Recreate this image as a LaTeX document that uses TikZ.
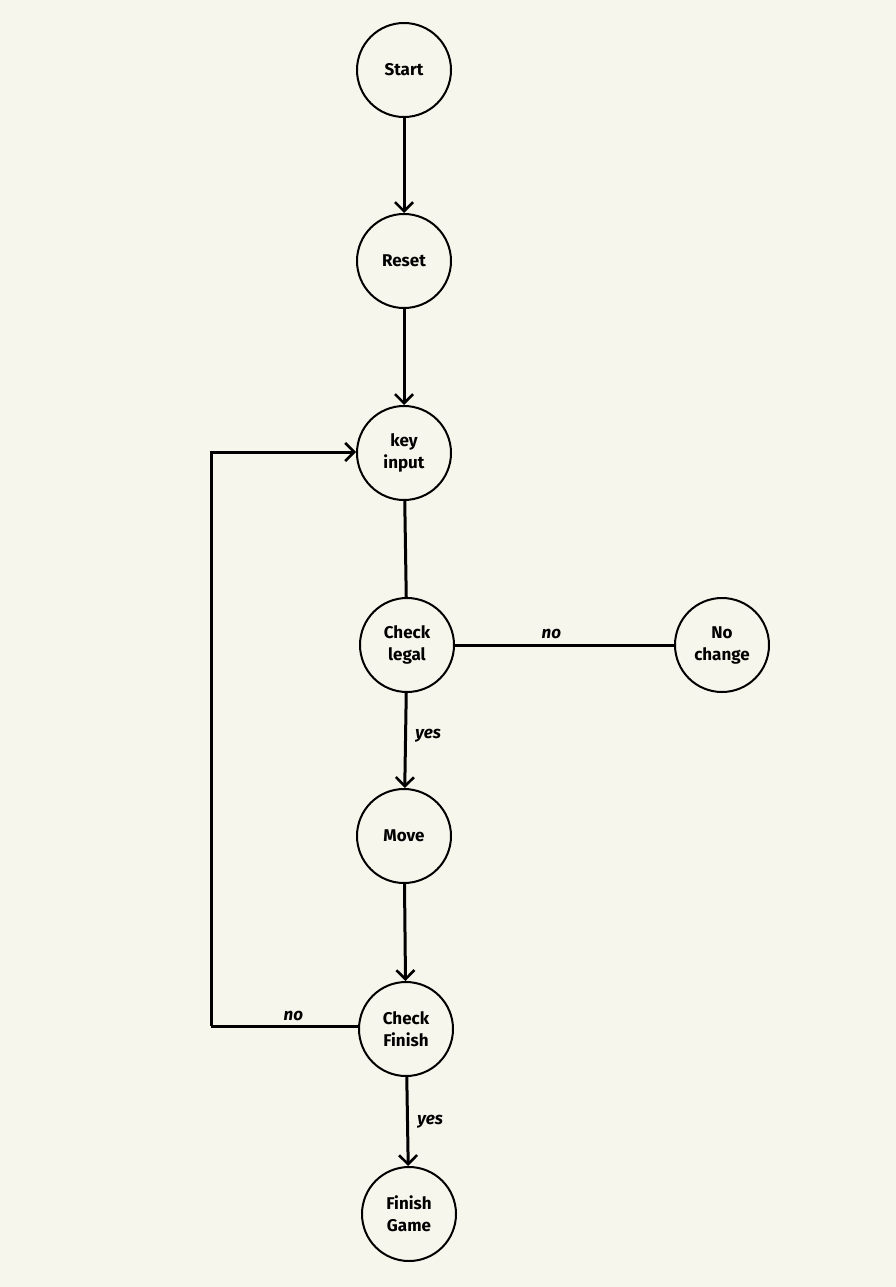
\documentclass[tikz,border=0pt]{standalone}
\usepackage{fontspec}
\setmainfont{Fira Sans}
\usetikzlibrary{arrows.meta}
\definecolor{paper}{RGB}{246,246,236}
\begin{document}
\begin{tikzpicture}[x=1pt,y=-1pt,
  state/.style={draw, circle, line width=2pt, minimum size=94pt, inner sep=0pt,
    align=center, font=\fontsize{17}{22}\selectfont\bfseries},
  flow/.style={line width=3pt, -{Straight Barb[length=9pt,width=18pt,line width=2.6pt]}},
  plain/.style={line width=3pt},
  lbl/.style={font=\fontsize{17}{20}\selectfont\itshape\bfseries}]
  \fill[paper] (0,0) rectangle (896,1287);
  \useasboundingbox (0,0) rectangle (896,1287);

  \node[state] (start) at (404,70) {Start};
  \node[state] (reset) at (404,261) {Reset};
  \node[state] (key) at (404,453) {key\\input};
  \node[state] (legal) at (407,645) {Check\\legal};
  \node[state] (nochange) at (722,645) {No\\change};
  \node[state] (move) at (404,836) {Move};
  \node[state] (finish) at (406,1029) {Check\\Finish};
  \node[state] (game) at (409,1214) {Finish\\Game};

  \coordinate (loopbot) at (211,1026);
  \coordinate (looptop) at (211,452);

  \draw[flow] (start) -- (reset);
  \draw[flow] (reset) -- (key);
  \draw[plain] (key) -- (legal);
  \draw[plain] (legal) -- node[lbl, above=1pt, pos=0.44] {no} (nochange);
  \draw[flow] (legal) -- node[lbl, right=5pt, pos=0.45] {yes} (move);
  \draw[flow] (move) -- (finish);
  \draw[plain] (finish.west |- loopbot) -- node[lbl, above=0pt, pos=0.44] {no} (loopbot);
  \draw[flow] (loopbot) -- (looptop) -- (key.west |- looptop);
  \draw[flow] (finish) -- node[lbl, right=5pt, pos=0.5] {yes} (game);
\end{tikzpicture}
\end{document}
